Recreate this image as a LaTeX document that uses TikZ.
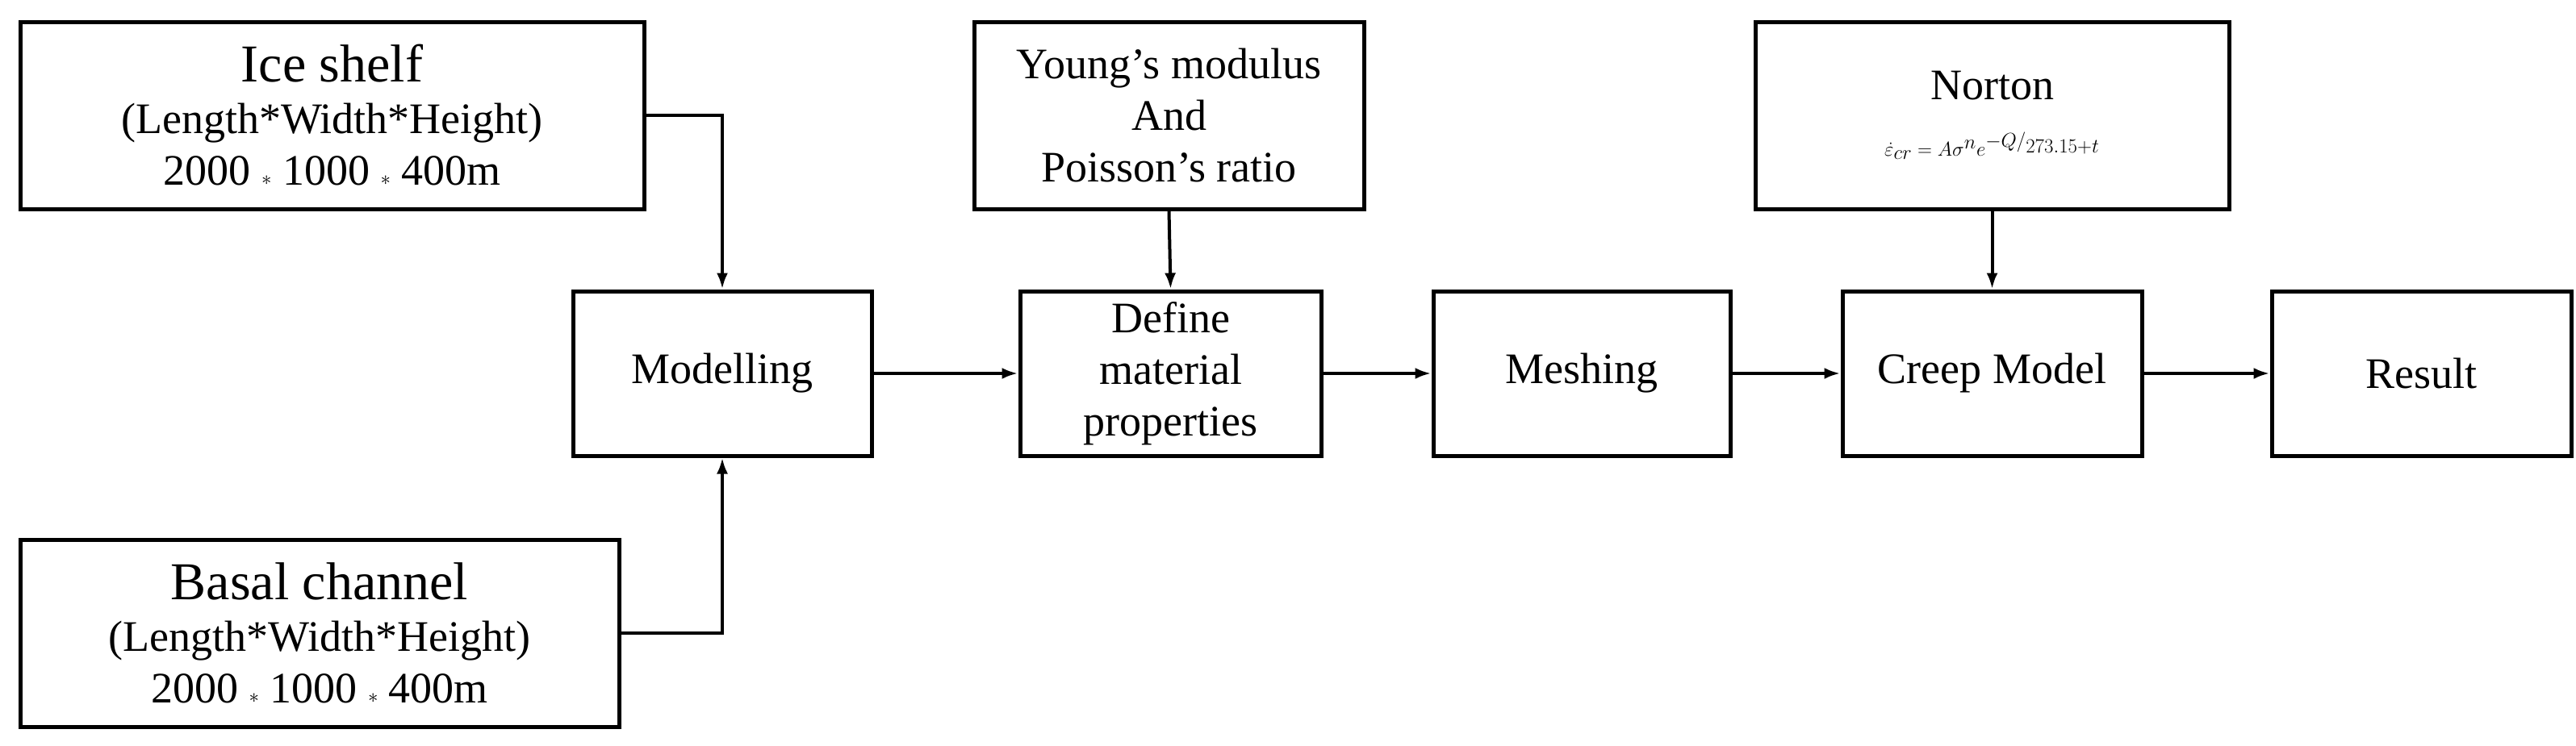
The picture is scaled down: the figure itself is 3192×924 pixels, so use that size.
\documentclass[tikz,border=0pt]{standalone}
\usepackage{fontspec}
\setmainfont{Liberation Serif}
\usetikzlibrary{arrows.meta}
\begin{document}
\begin{tikzpicture}[x=1pt,y=1pt,
  box/.style={draw,line width=5pt,rectangle,align=center,inner sep=0pt,
    font=\fontsize{54}{64}\selectfont},
  conn/.style={line width=4pt,-{Latex[length=20pt,width=14pt]}}]
\useasboundingbox (0,0) rectangle (3192,-924);
\node[box,minimum width=773,minimum height=232] (ice) at (411.5,-143)
 {{\fontsize{66}{74}\selectfont Ice shelf}\\(Length*Width*Height)\\2000 $*$ 1000 $*$ 400m};
\node[box,minimum width=742,minimum height=232] (bas) at (396,-785)
 {{\fontsize{66}{74}\selectfont Basal channel}\\(Length*Width*Height)\\2000 $*$ 1000 $*$ 400m};
\node[box,minimum width=370,minimum height=204] (mod) at (895,-463) {Modelling};
\node[box,minimum width=483,minimum height=232] (yng) at (1448.5,-143) {Young's modulus\\And\\Poisson's ratio};
\node[box,minimum width=373,minimum height=204] (def) at (1450.5,-463) {Define\\material\\properties};
\node[box,minimum width=368,minimum height=204] (msh) at (1960,-463) {Meshing};
\node[box,minimum width=371,minimum height=204] (crp) at (2468.5,-463) {Creep Model};
\node[box,minimum width=587,minimum height=232] (nor) at (2468.5,-143)
 {Norton\\[6pt]$\dot{\varepsilon}_{cr} = A\sigma^{n}e^{-Q/_{273.15+t}}$};
\node[box,minimum width=371,minimum height=204] (res) at (3000.5,-463) {Result};
\draw[conn] (ice.east) -| (mod.north);
\draw[conn] (bas.east) -| (mod.south);
\draw[conn] (yng.south) -- (def.north);
\draw[conn] (nor.south) -- (crp.north);
\draw[conn] (mod) -- (def);
\draw[conn] (def) -- (msh);
\draw[conn] (msh) -- (crp);
\draw[conn] (crp) -- (res);
\end{tikzpicture}
\end{document}
